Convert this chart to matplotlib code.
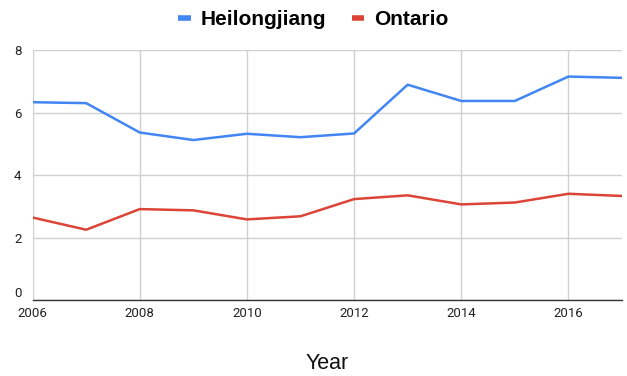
import matplotlib
matplotlib.use("Agg")
import matplotlib.pyplot as plt
from matplotlib.lines import Line2D

years = [2006, 2007, 2008, 2009, 2010, 2011, 2012, 2013, 2014, 2015, 2016, 2017]
heilongjiang = [6.33, 6.30, 5.36, 5.12, 5.32, 5.21, 5.33, 6.89, 6.37, 6.37, 7.15, 7.11]
ontario = [2.64, 2.25, 2.91, 2.87, 2.58, 2.68, 3.23, 3.35, 3.06, 3.12, 3.40, 3.33]
x_ticks = [2006, 2008, 2010, 2012, 2014, 2016]
y_ticks = [0, 2, 4, 6, 8]

blue = "#4285F4"
red = "#DB4437"

fig = plt.figure(figsize=(6.27, 3.76), dpi=100)
ax = fig.add_axes([0.052, 0.202, 0.940, 0.665])

ax.plot(years, heilongjiang, color=blue, lw=1.8, solid_joinstyle="round", label="Heilongjiang")
ax.plot(years, ontario, color=red, lw=1.8, solid_joinstyle="round", label="Ontario")

ax.set_xlim(2006, 2017)
ax.set_ylim(0, 8)
ax.set_xticks(x_ticks)
ax.set_yticks(y_ticks)
ax.set_xticklabels([str(t) for t in x_ticks], fontsize=9.5, color="#222222", family="Roboto")
ax.set_yticklabels([str(t) for t in y_ticks], fontsize=9.5, color="#222222", family="Roboto")
ax.tick_params(axis="both", length=0)
ax.tick_params(axis="x", pad=5)
ax.tick_params(axis="y", pad=8)
ax.get_yticklabels()[0].set_verticalalignment("bottom")

ax.grid(True, color="#d0d0d0", lw=1)
ax.set_axisbelow(True)
for s in ["top", "right", "left"]:
    ax.spines[s].set_visible(False)
ax.spines["bottom"].set_color("#333333")
ax.spines["bottom"].set_linewidth(1)

ax.set_xlabel("Year", fontsize=15.5, family="Liberation Sans", color="#111111", labelpad=24)

handles = [Line2D([0], [0], color=blue, lw=4, solid_capstyle="butt"),
           Line2D([0], [0], color=red, lw=4, solid_capstyle="butt")]
fig.legend(handles, ["Heilongjiang", "Ontario"], loc="center", bbox_to_anchor=(0.5, 0.948),
           ncol=2, frameon=False, handlelength=0.6, handletextpad=0.5, columnspacing=1.2,
           prop={"family": "Liberation Sans", "weight": "bold", "size": 15})

fig.savefig("out.png", dpi=100)
